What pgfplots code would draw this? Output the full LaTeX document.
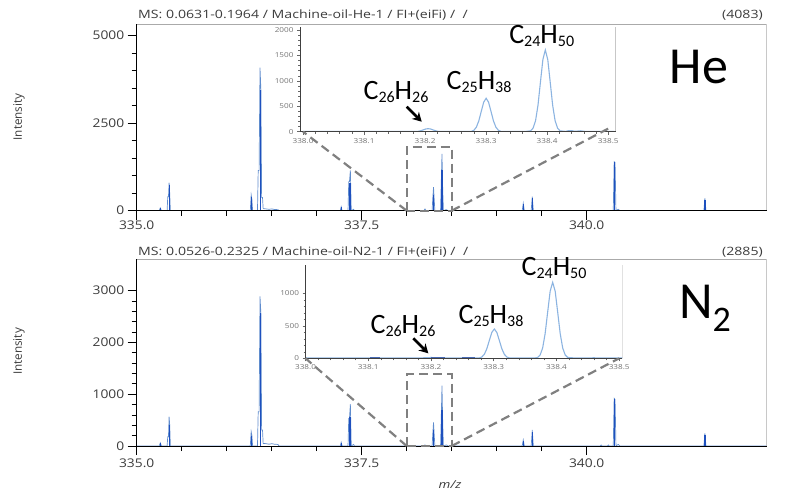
\documentclass[border=0pt]{standalone}
\usepackage{fontspec}
\setmainfont{Open Sans}
\newfontfamily\carl{Carlito}
\usepackage{pgfplots}
\pgfplotsset{compat=1.18}
\usetikzlibrary{arrows.meta}

\definecolor{prof}{RGB}{95,140,205}
\definecolor{stick}{RGB}{30,80,190}
\definecolor{iprof}{RGB}{140,180,225}
\definecolor{ibase}{RGB}{70,105,180}
\definecolor{txt}{RGB}{60,60,60}
\definecolor{frame}{RGB}{170,170,170}
\definecolor{dashc}{RGB}{128,128,128}

\newcommand\sm[1]{\raisebox{-3pt}{\fontsize{16}{16}\selectfont #1}}
\newcommand\wide[1]{\scalebox{1.23}[1]{#1}}

\tikzset{dz/.style={dashc, line width=2.2pt, dash pattern=on 9pt off 5pt}}

\pgfplotsset{
  mainax/.style={scale only axis, width=630pt, xmin=335, xmax=342, ymin=0,
    axis x line*=bottom, axis y line*=left,
    axis line style={black, line width=0.9pt},
    xtick={335,337.5,340}, minor x tick num=4, minor y tick num=4,
    xticklabel={\scalebox{1.15}[1]{\pgfmathprintnumber[fixed,fixed zerofill,precision=1]{\tick}}},
    yticklabel={\scalebox{1.15}[1]{\pgfmathprintnumber[fixed,1000 sep={}]{\tick}}},
    tick align=outside, major tick length=9pt, minor tick length=5pt,
    tick style={black, line width=0.8pt},
    tick label style={font=\fontsize{12}{12}\selectfont, text=txt},
    /pgf/number format/assume math mode=true,
    axis on top, no marks},
  inset/.style={scale only axis,
    axis x line*=bottom, axis y line*=left,
    axis line style={black!75, line width=0.6pt},
    xtick={338.0,338.1,338.2,338.3,338.4,338.5}, minor x tick num=4, minor y tick num=4,
    xticklabel={\scalebox{1.2}[1]{\pgfmathprintnumber[fixed,fixed zerofill,precision=1]{\tick}}},
    yticklabel={\scalebox{1.2}[1]{\pgfmathprintnumber[fixed,1000 sep={}]{\tick}}},
    tick align=outside, major tick length=3pt, minor tick length=2pt,
    tick style={black!60, line width=0.5pt},
    tick label style={font=\fontsize{6.8}{6.8}\selectfont, text=black!55},
    /pgf/number format/assume math mode=true,
    axis background/.style={fill=white}, axis on top, no marks}
}

\begin{document}
\begin{tikzpicture}[x=1pt,y=1pt]
\useasboundingbox (0,0) rectangle (786,491);

% ---------- top: He ----------
\begin{axis}[mainax, at={(136.7pt,280.3pt)}, anchor=south west,
  height=186.7pt, ymax=5334, ytick={0,2500,5000},
  x tick label style={yshift=2.5pt}]
\addplot[prof, line width=0.7pt] coordinates {
 (335.0,0) (335.25,0) (335.262,80) (335.275,0) (335.338,0) (335.345,400) (335.353,400) (335.36,800) (335.367,480) (335.374,0)
 (336.262,0) (336.272,449) (336.28,320) (336.288,0) (336.342,0) (336.35,1150) (336.36,1150) (336.37,4090) (336.38,3450) (336.388,380) (336.398,380) (336.405,60) (336.44,50) (336.47,40) (336.5,50) (336.53,35) (336.57,30) (336.58,0)
 (337.262,0) (337.272,110) (337.282,0) (337.348,0) (337.356,830) (337.364,830) (337.374,1150) (337.384,0) (337.41,40) (337.42,0)
 (338.19,0) (338.203,50) (338.215,0) (338.282,0) (338.29,360) (338.298,670) (338.306,300) (338.313,0) (338.376,0) (338.384,800) (338.392,1620) (338.40,600) (338.408,0) (338.44,30) (338.46,0)
 (339.283,0) (339.295,211) (339.307,0) (339.383,0) (339.395,400) (339.407,0)
 (340.295,0) (340.305,1400) (340.315,1380) (340.325,0) (340.35,40) (340.37,0)
 (341.302,0) (341.313,354) (341.325,0) (342,0)
};
\addplot[stick, ycomb, line width=1.2pt] coordinates {
 (335.264,70) (335.362,730) (336.276,400) (336.375,3450) (337.273,100) (337.37,780)
 (338.30,450) (338.393,1160) (339.297,190) (339.397,370) (340.308,1380) (341.315,300)
};
\draw[frame, line width=0.8pt] (rel axis cs:0,1) -- (rel axis cs:1,1) -- (rel axis cs:1,0);
\coordinate (tA) at (axis cs:338.0,0);
\coordinate (tB) at (axis cs:338.5,0);
\coordinate (tC) at (axis cs:338.5,1830);
\end{axis}

\begin{axis}[inset, at={(300pt,359.3pt)}, anchor=south west,
  width=315.5pt, height=104.4pt, xmin=337.995, xmax=338.512, ymin=0, ymax=2053,
  ytick={0,500,1000,1500,2000}]
\addplot[ibase, line width=1.2pt] coordinates {(337.995,4) (338.51,4)};
\addplot[iprof, line width=1.1pt] coordinates {
 (338.0,5) (338.05,6) (338.1,5) (338.15,6) (338.181,6)
 (338.189,8) (338.193,19) (338.197,36) (338.201,53) (338.205,60) (338.209,53) (338.213,36) (338.217,19) (338.221,8) (338.229,5)
 (338.25,5) (338.27,5)
 (338.276,7) (338.280,29) (338.284,89) (338.288,213) (338.292,398) (338.296,580) (338.300,657) (338.304,580) (338.308,398) (338.312,213) (338.316,89) (338.320,29) (338.324,7)
 (338.34,5) (338.365,6)
 (338.373,18) (338.377,71) (338.381,217) (338.385,522) (338.389,975) (338.393,1418) (338.397,1607) (338.401,1418) (338.405,975) (338.409,522) (338.413,217) (338.417,71) (338.421,18)
 (338.43,6) (338.435,20) (338.44,22) (338.445,8) (338.455,18) (338.46,8) (338.48,5) (338.51,5)
};
\draw[frame, line width=0.8pt] (rel axis cs:1,0) -- (rel axis cs:1,1);
\coordinate (iA) at (axis cs:338.0,0);
\coordinate (iB) at (axis cs:338.5,60);
\end{axis}

\draw[dz] (tA) -- (iA);
\draw[dz] (tB) -- (iB);
\draw[dz] (tA) rectangle (tC);

% ---------- bottom: N2 ----------
\begin{axis}[mainax, at={(136.7pt,45pt)}, anchor=south west,
  height=187pt, ymax=3612, ytick={0,1000,2000,3000}]
\addplot[prof, line width=0.7pt] coordinates {
 (335.0,0) (335.25,0) (335.262,60) (335.275,0) (335.338,0) (335.345,180) (335.353,180) (335.36,566) (335.367,400) (335.374,0)
 (336.262,0) (336.272,277) (336.28,200) (336.288,0) (336.342,0) (336.35,663) (336.36,663) (336.37,2890) (336.38,2560) (336.388,309) (336.398,309) (336.405,50) (336.44,45) (336.47,35) (336.5,45) (336.53,35) (336.57,30) (336.58,0)
 (337.262,0) (337.272,70) (337.282,0) (337.348,0) (337.356,530) (337.364,530) (337.374,811) (337.384,0) (337.41,30) (337.42,0)
 (338.19,0) (338.203,20) (338.215,0) (338.282,0) (338.29,240) (338.298,457) (338.306,200) (338.313,0) (338.376,0) (338.384,550) (338.392,1165) (338.40,450) (338.408,0) (338.44,20) (338.46,0)
 (339.283,0) (339.295,116) (339.307,0) (339.383,0) (339.395,309) (339.407,0)
 (340.15,0) (340.16,20) (340.17,0) (340.23,0) (340.24,20) (340.25,0)
 (340.295,0) (340.305,921) (340.315,900) (340.325,0) (340.35,30) (340.37,0)
 (341.302,0) (341.313,245) (341.325,0) (342,0)
};
\addplot[stick, ycomb, line width=1.2pt] coordinates {
 (335.264,50) (335.362,405) (336.276,200) (336.375,2563) (337.273,60) (337.37,566)
 (338.30,300) (338.393,695) (339.297,100) (339.397,280) (340.308,900) (341.315,220)
};
\draw[frame, line width=0.8pt] (rel axis cs:0,1) -- (rel axis cs:1,1) -- (rel axis cs:1,0);
\coordinate (bA) at (axis cs:338.0,0);
\coordinate (bB) at (axis cs:338.5,0);
\coordinate (bC) at (axis cs:338.5,1385);
\end{axis}

\begin{axis}[inset, at={(305.5pt,132.7pt)}, anchor=south west,
  width=316.8pt, height=93.3pt, xmin=338.0, xmax=338.505, ymin=0, ymax=1435,
  ytick={0,500,1000}]
\addplot[iprof, line width=1.1pt] coordinates {
 (338.0,4) (338.05,5) (338.1,4) (338.15,5) (338.18,5) (338.2,12) (338.22,6) (338.25,5) (338.27,5)
 (338.277,5) (338.281,20) (338.285,61) (338.289,146) (338.293,274) (338.297,398) (338.301,451) (338.305,398) (338.309,274) (338.313,146) (338.317,61) (338.321,20) (338.325,5)
 (338.34,4) (338.365,5)
 (338.370,13) (338.374,51) (338.378,158) (338.382,380) (338.386,709) (338.390,1032) (338.394,1169) (338.398,1032) (338.402,709) (338.406,380) (338.410,158) (338.414,51) (338.418,13)
 (338.43,5) (338.46,8) (338.48,4) (338.505,4)
};
\addplot[ibase, line width=1.1pt] coordinates {(338.103,8) (338.119,8)};
\addplot[ibase, line width=1.1pt] coordinates {(338.20,6) (338.222,6)};
\addplot[ibase, line width=1.1pt] coordinates {(338.25,5) (338.27,5)};
\draw[frame, line width=0.8pt] (rel axis cs:1,0) -- (rel axis cs:1,1);
\coordinate (jA) at (axis cs:338.0,0);
\coordinate (jB) at (axis cs:338.5,0);
\end{axis}

\draw[dz] (bA) -- (jA);
\draw[dz] (bB) -- (jB);
\draw[dz] (bA) rectangle (bC);

% ---------- texts ----------
\begin{scope}[every node/.style={inner sep=0pt, text=txt, font=\fontsize{11.5}{11.5}\selectfont}]
\node[anchor=base west] at (138,472) {\wide{MS: 0.0631-0.1964 / Machine-oil-He-1 / FI+(eiFi) /\ \ /}};
\node[anchor=base east] at (763,472) {\wide{(4083)}};
\node[anchor=base west] at (138,235.5) {\wide{MS: 0.0526-0.2325 / Machine-oil-N2-1 / FI+(eiFi) /\ \ /}};
\node[anchor=base east] at (763,235.5) {\wide{(2885)}};
\node[rotate=90, font=\fontsize{11.7}{11.7}\selectfont] at (19,374) {Intensity};
\node[rotate=90, font=\fontsize{11.7}{11.7}\selectfont] at (19,139.5) {Intensity};
\node[font=\fontsize{11}{11}\selectfont\itshape] at (450,6) {\wide{m/z}};
\end{scope}

\begin{scope}[every node/.style={inner sep=0pt, anchor=base, font=\carl\fontsize{28}{28}\selectfont}]
\node at (541.7,447.7) {C\sm{24}H\sm{50}};
\node at (479,401) {C\sm{25}H\sm{38}};
\node at (396,391.7) {C\sm{26}H\sm{26}};
\node at (554,216) {C\sm{24}H\sm{50}};
\node at (491,167.7) {C\sm{25}H\sm{38}};
\node at (403,157.7) {C\sm{26}H\sm{26}};
\node[font=\carl\fontsize{52}{52}\selectfont] at (699,407.7) {He};
\node[font=\carl\fontsize{52}{52}\selectfont] at (705,172.7) {N\raisebox{-13pt}{\fontsize{36}{36}\selectfont 2}};
\end{scope}

\draw[line width=2.6pt, -{Stealth[length=9pt,width=10pt]}] (406.7,384.3) -- (421.7,369.3);
\draw[line width=2.6pt, -{Stealth[length=9pt,width=10pt]}] (413.3,152.7) -- (428.3,137.7);
\end{tikzpicture}
\end{document}
